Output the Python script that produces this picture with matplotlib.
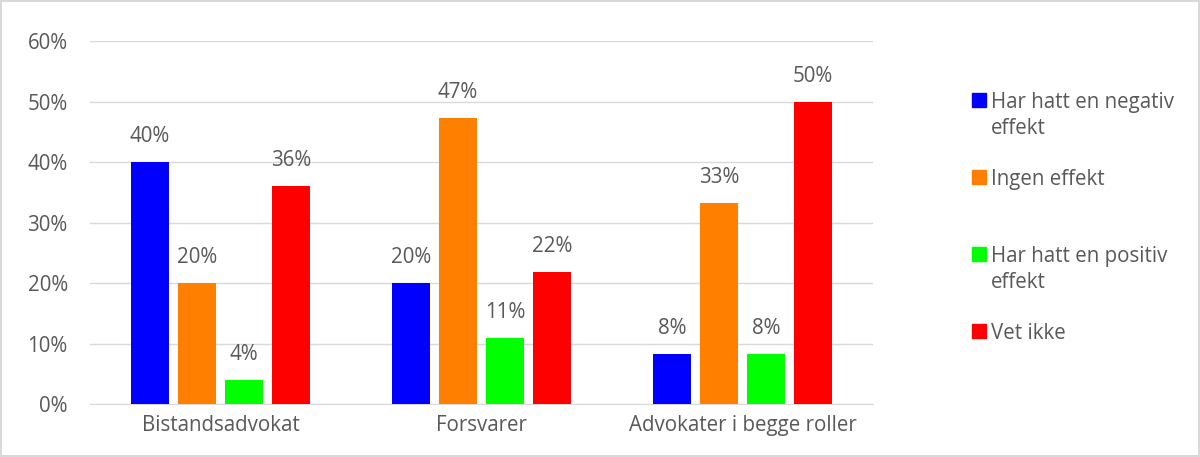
import numpy as np
import matplotlib.pyplot as plt
from matplotlib.patches import Rectangle

plt.rcParams['font.family'] = ['Open Sans', 'DejaVu Sans']

# data
groups = ['Bistandsadvokat', 'Forsvarer', 'Advokater i begge roller']
series = ['Har hatt en negativ\neffekt', 'Ingen effekt', 'Har hatt en positiv\neffekt', 'Vet ikke']
negativ = [40.0, 20.0, 8.3]
ingen = [20.0, 47.3, 33.3]
positiv = [4.0, 10.9, 8.3]
vet_ikke = [36.0, 21.8, 50.0]
colors = ['#0000FF', '#FF8000', '#00FF00', '#FF0000']

values = [negativ, ingen, positiv, vet_ikke]
txt = '#595959'
fs = 14.8

W, H = 1200, 457
fig = plt.figure(figsize=(W / 100, H / 100), dpi=100)
fig.patch.set_edgecolor('#d9d9d9')
fig.patch.set_linewidth(1.5)
ax = fig.add_axes([0.075, 0.116, 0.6525, 0.794])

x = np.arange(len(groups))
step = 0.18
width = 0.142
for i, (vals, c) in enumerate(zip(values, colors)):
    pos = x + (i - 1.5) * step
    bars = ax.bar(pos, vals, width, color=c, zorder=3)
    for b, v in zip(bars, vals):
        ax.text(b.get_x() + b.get_width() / 2, v + 4.2, f'{round(v):.0f}%',
                ha='center', va='center', fontsize=fs, color=txt)

ax.set_xlim(-0.5, 2.5)
ax.set_ylim(0, 60)
ax.set_yticks(np.arange(0, 61, 10))
ax.set_yticklabels([f'{t}%' for t in range(0, 61, 10)])
ax.set_xticks(x)
ax.set_xticklabels(groups)
ax.grid(axis='y', color='#d9d9d9', linewidth=1, zorder=0)
for s in ['top', 'right', 'left']:
    ax.spines[s].set_visible(False)
ax.spines['bottom'].set_color('#d9d9d9')
ax.tick_params(axis='both', length=0, labelsize=fs, colors=txt)
ax.tick_params(axis='x', pad=8)
ax.tick_params(axis='y', pad=16)

# legend, drawn by hand so the swatch sits at the first line
for i, (lab, c) in enumerate(zip(series, colors)):
    ytop = 100 + i * 77
    fig.patches.append(Rectangle((972 / W, 1 - (ytop + 7) / H), 14 / W, 14 / H,
                                 transform=fig.transFigure, color=c))
    for k, line in enumerate(lab.split('\n')):
        fig.text(991 / W, 1 - (ytop + k * 26) / H, line, ha='left',
                 va='center_baseline', fontsize=fs, color=txt)

fig.savefig('out.png')
